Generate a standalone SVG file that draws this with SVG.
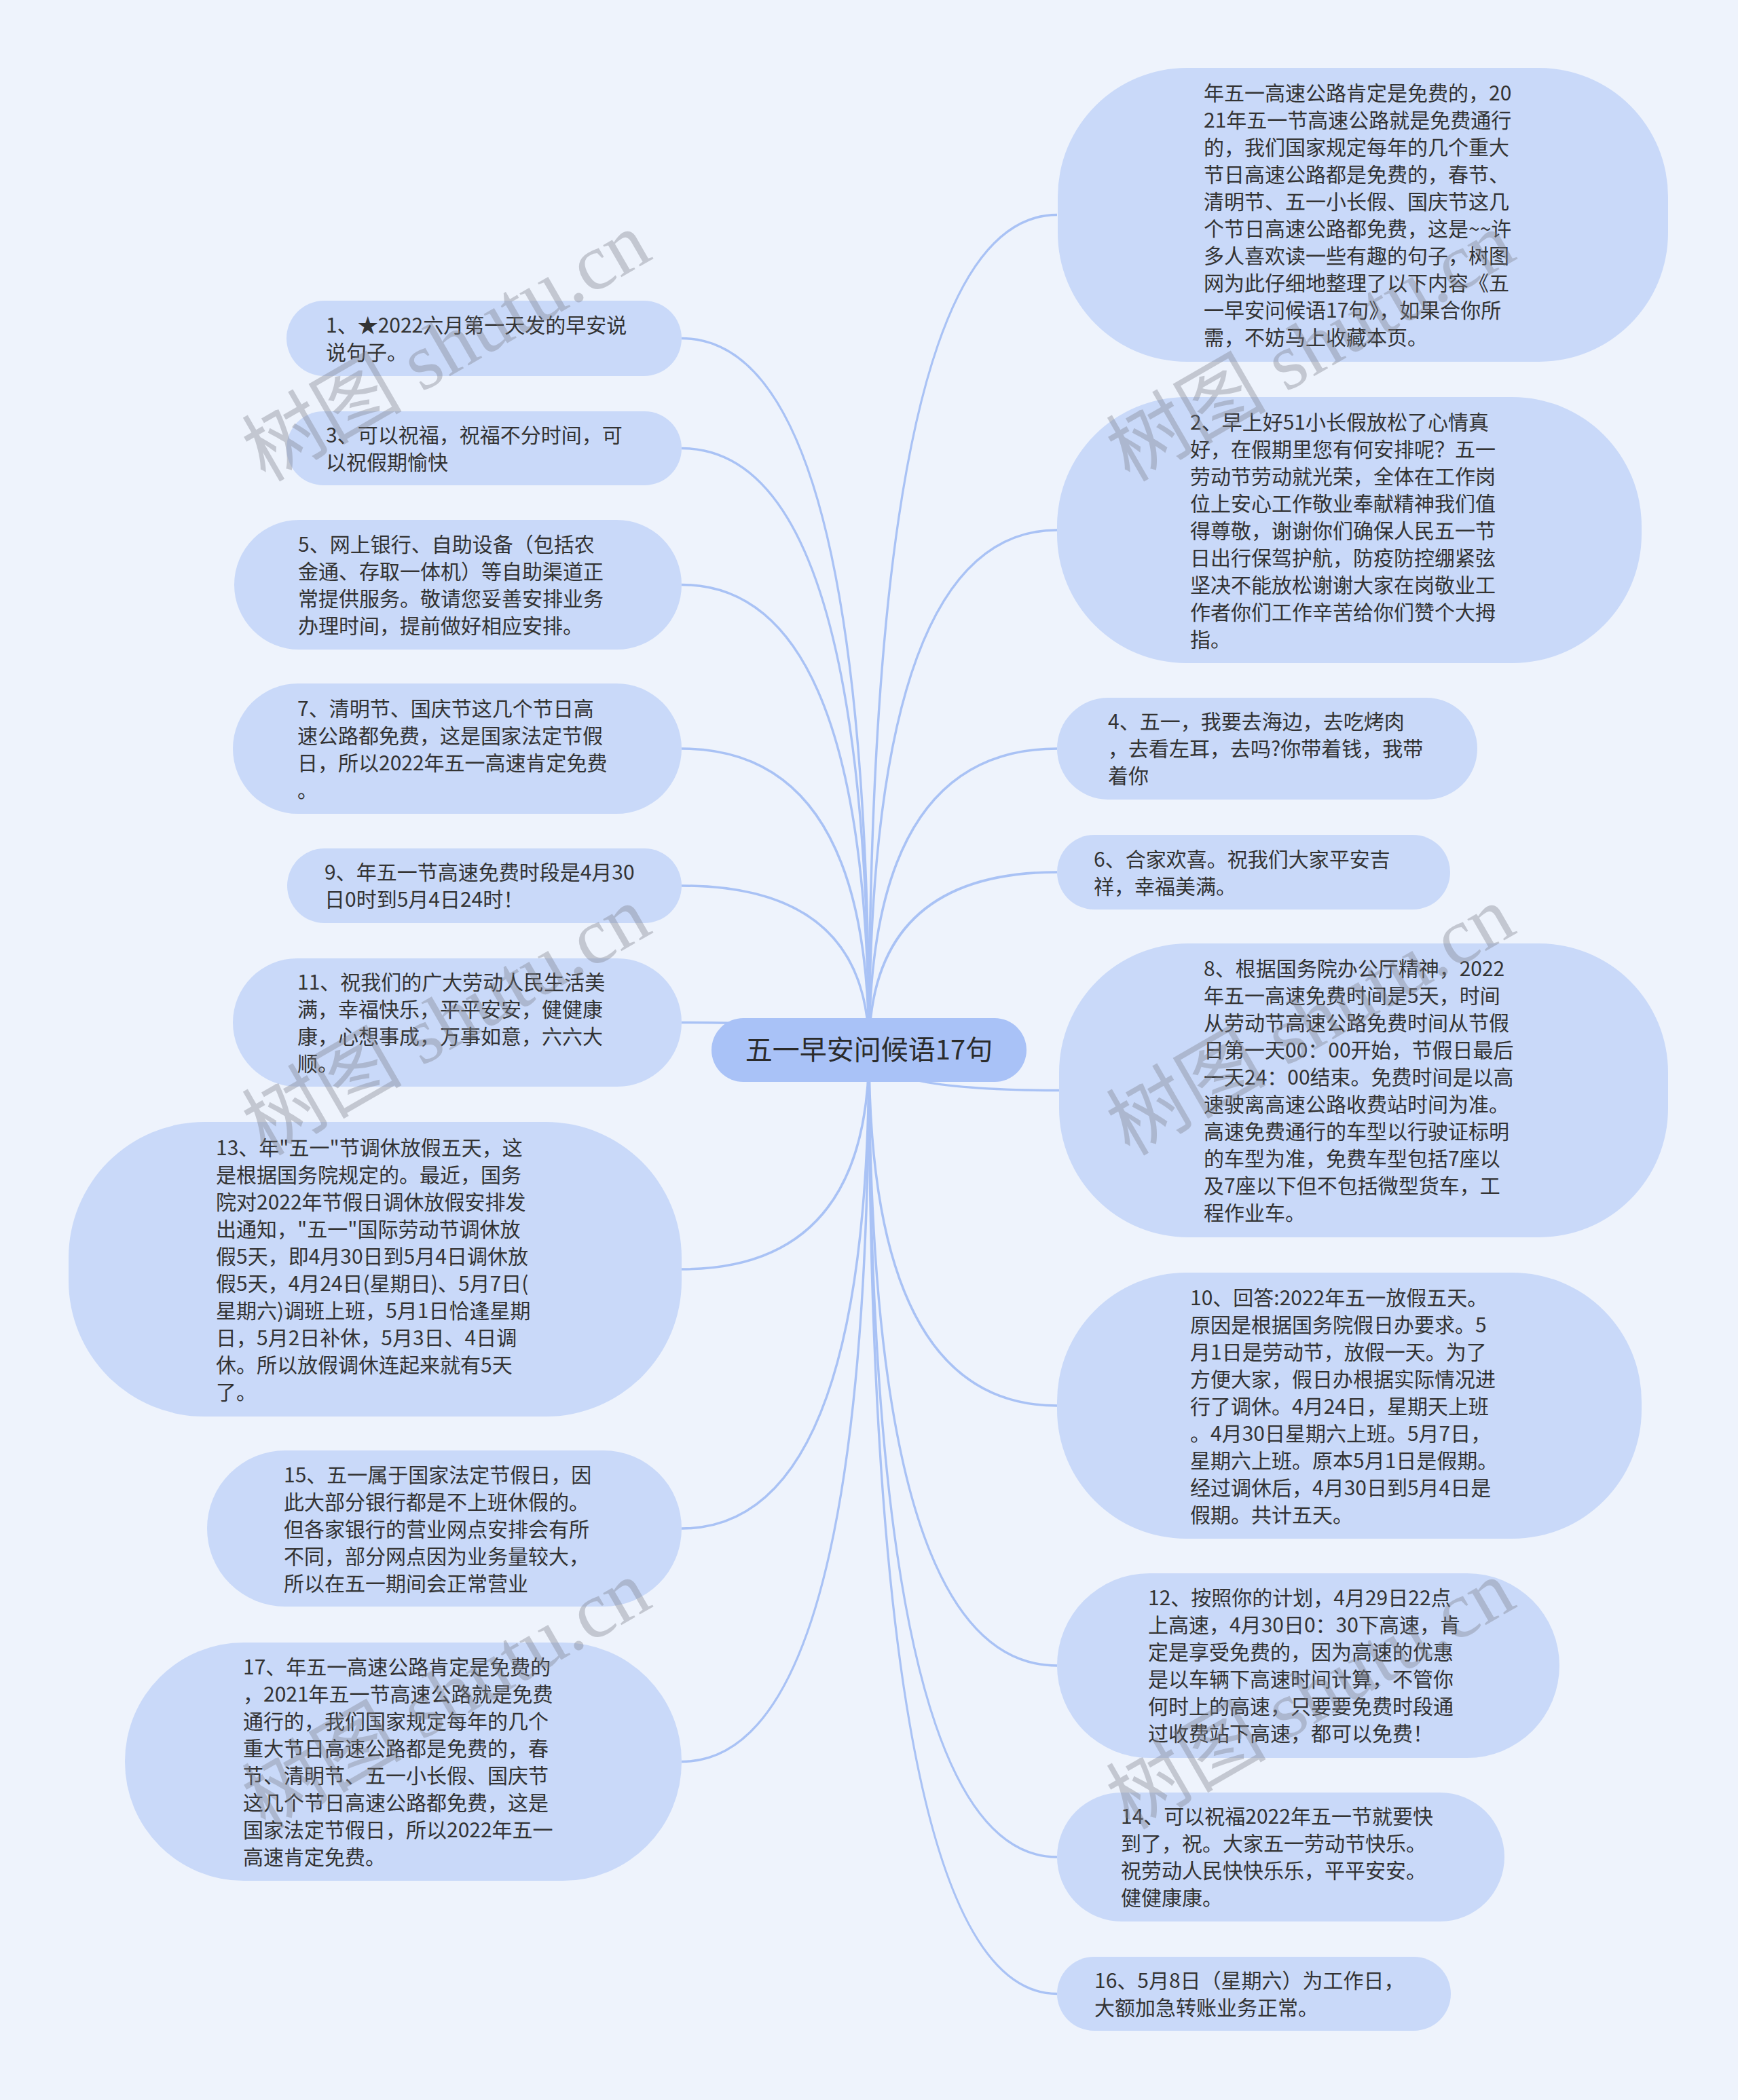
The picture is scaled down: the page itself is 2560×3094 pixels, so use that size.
<svg xmlns="http://www.w3.org/2000/svg" width="2560" height="3094" viewBox="0 0 2560 3094">
<style>
.bg{fill:#eef3fc}
.node rect{fill:#c9d9f9}
.root rect{fill:#a9c2f7}
.node text{font-family:"Noto Sans CJK SC","Noto Sans",sans-serif;font-size:30px;fill:#333333}
.root text{font-family:"Noto Sans CJK SC","Noto Sans",sans-serif;font-size:40px;fill:#2b2b2b}
.links path{fill:none;stroke:#a9c2f5;stroke-width:3.5}
.wm text{font-family:"Liberation Serif","Noto Sans CJK SC",serif;font-size:118px;fill:#7d828c;fill-opacity:0.38}
</style>
<rect class="bg" x="0" y="0" width="2560" height="3094"/>
<g id="connectors" class="links">
<path d="M1280 1547 Q1280 316.5 1557 316.5"/>
<path d="M1280 1547 Q1280 781 1557 781"/>
<path d="M1280 1547 Q1280 1103 1557 1103"/>
<path d="M1280 1547 Q1280 1285 1557 1285"/>
<path d="M1280 1547 Q1280 1606.5 1560 1606.5"/>
<path d="M1280 1547 Q1280 2071 1557 2071"/>
<path d="M1280 1547 Q1280 2454 1557 2454"/>
<path d="M1280 1547 Q1280 2736 1557 2736"/>
<path d="M1280 1547 Q1280 2937.5 1557 2937.5"/>
<path d="M1280 1547 Q1280 498.5 1004 498.5"/>
<path d="M1280 1547 Q1280 660.5 1004 660.5"/>
<path d="M1280 1547 Q1280 861.5 1004 861.5"/>
<path d="M1280 1547 Q1280 1103 1004 1103"/>
<path d="M1280 1547 Q1280 1305 1004 1305"/>
<path d="M1280 1547 Q1280 1506.5 1004 1506.5"/>
<path d="M1280 1547 Q1280 1870 1004 1870"/>
<path d="M1280 1547 Q1280 2252 1004 2252"/>
<path d="M1280 1547 Q1280 2595.5 1004 2595.5"/>
</g>
<g id="root" class="root">
<rect x="1048" y="1500" width="464" height="94" rx="47"/>
<text x="1280" y="1561" text-anchor="middle">五一早安问候语17句</text>
</g>
<g id="r1" class="node">
<rect x="1558" y="100" width="899" height="433" rx="190"/>
<text><tspan x="1773" y="148">年五一高速公路肯定是免费的，20</tspan><tspan x="1773" y="188">21年五一节高速公路就是免费通行</tspan><tspan x="1773" y="228">的，我们国家规定每年的几个重大</tspan><tspan x="1773" y="268">节日高速公路都是免费的，春节、</tspan><tspan x="1773" y="308">清明节、五一小长假、国庆节这几</tspan><tspan x="1773" y="348">个节日高速公路都免费，这是~~许</tspan><tspan x="1773" y="388">多人喜欢读一些有趣的句子，树图</tspan><tspan x="1773" y="428">网为此仔细地整理了以下内容《五</tspan><tspan x="1773" y="468">一早安问候语17句》，如果合你所</tspan><tspan x="1773" y="508">需，不妨马上收藏本页。</tspan></text>
</g>
<g id="r2" class="node">
<rect x="1557" y="585" width="861" height="392" rx="190"/>
<text><tspan x="1753" y="633">2、早上好51小长假放松了心情真</tspan><tspan x="1753" y="673">好，在假期里您有何安排呢？五一</tspan><tspan x="1753" y="713">劳动节劳动就光荣，全体在工作岗</tspan><tspan x="1753" y="753">位上安心工作敬业奉献精神我们值</tspan><tspan x="1753" y="793">得尊敬，谢谢你们确保人民五一节</tspan><tspan x="1753" y="833">日出行保驾护航，防疫防控绷紧弦</tspan><tspan x="1753" y="873">坚决不能放松谢谢大家在岗敬业工</tspan><tspan x="1753" y="913">作者你们工作辛苦给你们赞个大拇</tspan><tspan x="1753" y="953">指。</tspan></text>
</g>
<g id="r3" class="node">
<rect x="1557" y="1028" width="619" height="150" rx="75"/>
<text><tspan x="1632" y="1074">4、五一，我要去海边，去吃烤肉</tspan><tspan x="1632" y="1114">，去看左耳，去吗?你带着钱，我带</tspan><tspan x="1632" y="1154">着你</tspan></text>
</g>
<g id="r4" class="node">
<rect x="1557" y="1230" width="579" height="110" rx="55"/>
<text><tspan x="1611" y="1277">6、合家欢喜。祝我们大家平安吉</tspan><tspan x="1611" y="1317">祥，幸福美满。</tspan></text>
</g>
<g id="r5" class="node">
<rect x="1560" y="1390" width="897" height="433" rx="190"/>
<text><tspan x="1773" y="1438">8、根据国务院办公厅精神，2022</tspan><tspan x="1773" y="1478">年五一高速免费时间是5天，时间</tspan><tspan x="1773" y="1518">从劳动节高速公路免费时间从节假</tspan><tspan x="1773" y="1558">日第一天00：00开始，节假日最后</tspan><tspan x="1773" y="1598">一天24：00结束。免费时间是以高</tspan><tspan x="1773" y="1638">速驶离高速公路收费站时间为准。</tspan><tspan x="1773" y="1678">高速免费通行的车型以行驶证标明</tspan><tspan x="1773" y="1718">的车型为准，免费车型包括7座以</tspan><tspan x="1773" y="1758">及7座以下但不包括微型货车，工</tspan><tspan x="1773" y="1798">程作业车。</tspan></text>
</g>
<g id="r6" class="node">
<rect x="1557" y="1875" width="861" height="392" rx="190"/>
<text><tspan x="1753" y="1923">10、回答:2022年五一放假五天。</tspan><tspan x="1753" y="1963">原因是根据国务院假日办要求。5</tspan><tspan x="1753" y="2003">月1日是劳动节，放假一天。为了</tspan><tspan x="1753" y="2043">方便大家，假日办根据实际情况进</tspan><tspan x="1753" y="2083">行了调休。4月24日，星期天上班</tspan><tspan x="1753" y="2123">。4月30日星期六上班。5月7日，</tspan><tspan x="1753" y="2163">星期六上班。原本5月1日是假期。</tspan><tspan x="1753" y="2203">经过调休后，4月30日到5月4日是</tspan><tspan x="1753" y="2243">假期。共计五天。</tspan></text>
</g>
<g id="r7" class="node">
<rect x="1557" y="2318" width="740" height="272" rx="136"/>
<text><tspan x="1691" y="2365">12、按照你的计划，4月29日22点</tspan><tspan x="1691" y="2405">上高速，4月30日0：30下高速，肯</tspan><tspan x="1691" y="2445">定是享受免费的，因为高速的优惠</tspan><tspan x="1691" y="2485">是以车辆下高速时间计算，不管你</tspan><tspan x="1691" y="2525">何时上的高速，只要要免费时段通</tspan><tspan x="1691" y="2565">过收费站下高速，都可以免费！</tspan></text>
</g>
<g id="r8" class="node">
<rect x="1557" y="2641" width="659" height="190" rx="95"/>
<text><tspan x="1651" y="2687">14、可以祝福2022年五一节就要快</tspan><tspan x="1651" y="2727">到了，祝。大家五一劳动节快乐。</tspan><tspan x="1651" y="2767">祝劳动人民快快乐乐，平平安安。</tspan><tspan x="1651" y="2807">健健康康。</tspan></text>
</g>
<g id="r9" class="node">
<rect x="1557" y="2883" width="580" height="109" rx="54.5"/>
<text><tspan x="1612" y="2929">16、5月8日（星期六）为工作日，</tspan><tspan x="1612" y="2969">大额加急转账业务正常。</tspan></text>
</g>
<g id="l1" class="node">
<rect x="422" y="443" width="582" height="111" rx="55.5"/>
<text><tspan x="480" y="490">1、★2022六月第一天发的早安说</tspan><tspan x="480" y="530">说句子。</tspan></text>
</g>
<g id="l2" class="node">
<rect x="422" y="606" width="582" height="109" rx="54.5"/>
<text><tspan x="480" y="652">3、可以祝福，祝福不分时间，可</tspan><tspan x="480" y="692">以祝假期愉快</tspan></text>
</g>
<g id="l3" class="node">
<rect x="345" y="766" width="659" height="191" rx="95.5"/>
<text><tspan x="439" y="813">5、网上银行、自助设备（包括农</tspan><tspan x="439" y="853">金通、存取一体机）等自助渠道正</tspan><tspan x="439" y="893">常提供服务。敬请您妥善安排业务</tspan><tspan x="439" y="933">办理时间，提前做好相应安排。</tspan></text>
</g>
<g id="l4" class="node">
<rect x="343" y="1007" width="661" height="192" rx="96"/>
<text><tspan x="438" y="1055">7、清明节、国庆节这几个节日高</tspan><tspan x="438" y="1095">速公路都免费，这是国家法定节假</tspan><tspan x="438" y="1135">日，所以2022年五一高速肯定免费</tspan><tspan x="438" y="1175">。</tspan></text>
</g>
<g id="l5" class="node">
<rect x="423" y="1250" width="581" height="110" rx="55"/>
<text><tspan x="478" y="1296">9、年五一节高速免费时段是4月30</tspan><tspan x="478" y="1336">日0时到5月4日24时！</tspan></text>
</g>
<g id="l6" class="node">
<rect x="343" y="1412" width="661" height="189" rx="94.5"/>
<text><tspan x="438" y="1458">11、祝我们的广大劳动人民生活美</tspan><tspan x="438" y="1498">满，幸福快乐，平平安安，健健康</tspan><tspan x="438" y="1538">康，心想事成，万事如意，六六大</tspan><tspan x="438" y="1578">顺。</tspan></text>
</g>
<g id="l7" class="node">
<rect x="101" y="1653" width="903" height="434" rx="200"/>
<text><tspan x="318" y="1702">13、年"五一"节调休放假五天，这</tspan><tspan x="318" y="1742">是根据国务院规定的。最近，国务</tspan><tspan x="318" y="1782">院对2022年节假日调休放假安排发</tspan><tspan x="318" y="1822">出通知，"五一"国际劳动节调休放</tspan><tspan x="318" y="1862">假5天，即4月30日到5月4日调休放</tspan><tspan x="318" y="1902">假5天，4月24日(星期日)、5月7日(</tspan><tspan x="318" y="1942">星期六)调班上班，5月1日恰逢星期</tspan><tspan x="318" y="1982">日，5月2日补休，5月3日、4日调</tspan><tspan x="318" y="2022">休。所以放假调休连起来就有5天</tspan><tspan x="318" y="2062">了。</tspan></text>
</g>
<g id="l8" class="node">
<rect x="305" y="2137" width="699" height="230" rx="115"/>
<text><tspan x="418" y="2184">15、五一属于国家法定节假日，因</tspan><tspan x="418" y="2224">此大部分银行都是不上班休假的。</tspan><tspan x="418" y="2264">但各家银行的营业网点安排会有所</tspan><tspan x="418" y="2304">不同，部分网点因为业务量较大，</tspan><tspan x="418" y="2344">所以在五一期间会正常营业</tspan></text>
</g>
<g id="l9" class="node">
<rect x="184" y="2420" width="820" height="351" rx="175"/>
<text><tspan x="358" y="2467">17、年五一高速公路肯定是免费的</tspan><tspan x="358" y="2507">，2021年五一节高速公路就是免费</tspan><tspan x="358" y="2547">通行的，我们国家规定每年的几个</tspan><tspan x="358" y="2587">重大节日高速公路都是免费的，春</tspan><tspan x="358" y="2627">节、清明节、五一小长假、国庆节</tspan><tspan x="358" y="2667">这几个节日高速公路都免费，这是</tspan><tspan x="358" y="2707">国家法定节假日，所以2022年五一</tspan><tspan x="358" y="2747">高速肯定免费。</tspan></text>
</g>
<g id="watermarks" class="wm">
<text x="661" y="550" text-anchor="middle" transform="rotate(-30 661 517)">树图 shutu.cn</text>
<text x="1934" y="550" text-anchor="middle" transform="rotate(-30 1934 517)">树图 shutu.cn</text>
<text x="661" y="1543" text-anchor="middle" transform="rotate(-30 661 1510)">树图 shutu.cn</text>
<text x="1934" y="1543" text-anchor="middle" transform="rotate(-30 1934 1510)">树图 shutu.cn</text>
<text x="661" y="2536" text-anchor="middle" transform="rotate(-30 661 2503)">树图 shutu.cn</text>
<text x="1934" y="2536" text-anchor="middle" transform="rotate(-30 1934 2503)">树图 shutu.cn</text>
</g>
</svg>
